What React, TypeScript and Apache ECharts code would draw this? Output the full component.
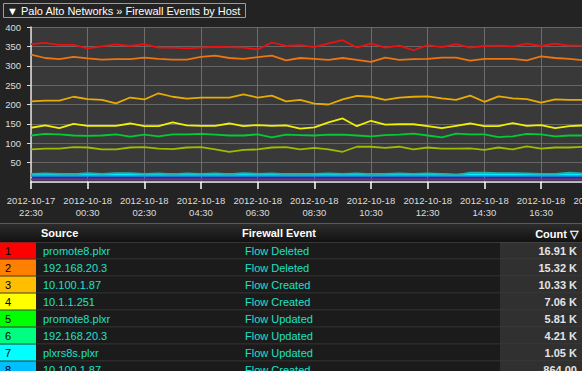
import React, { useEffect, useRef } from "react";
import * as echarts from "echarts";

const times = [
  "2012-10-17 22:30", "2012-10-17 23:00", "2012-10-17 23:30",
  "2012-10-18 00:00", "2012-10-18 00:30", "2012-10-18 01:00", "2012-10-18 01:30",
  "2012-10-18 02:00", "2012-10-18 02:30", "2012-10-18 03:00", "2012-10-18 03:30",
  "2012-10-18 04:00", "2012-10-18 04:30", "2012-10-18 05:00", "2012-10-18 05:30",
  "2012-10-18 06:00", "2012-10-18 06:30", "2012-10-18 07:00", "2012-10-18 07:30",
  "2012-10-18 08:00", "2012-10-18 08:30", "2012-10-18 09:00", "2012-10-18 09:30",
  "2012-10-18 10:00", "2012-10-18 10:30", "2012-10-18 11:00", "2012-10-18 11:30",
  "2012-10-18 12:00", "2012-10-18 12:30", "2012-10-18 13:00", "2012-10-18 13:30",
  "2012-10-18 14:00", "2012-10-18 14:30", "2012-10-18 15:00", "2012-10-18 15:30",
  "2012-10-18 16:00", "2012-10-18 16:30", "2012-10-18 17:00", "2012-10-18 17:30",
  "2012-10-18 18:00", "2012-10-18 18:30", "2012-10-18 19:00",
];

const yTicks = [0, 50, 100, 150, 200, 250, 300, 350, 400];

const redSeries = [356, 359, 354, 354, 345, 350, 355, 351, 356, 347, 347, 345, 347,
  349, 348, 347, 342, 360, 351, 353, 348, 358, 366, 347, 358, 347,
  352, 340, 353, 348, 356, 347, 351, 352, 350, 357, 351, 357, 352, 352, 350, 354];
const orangeSeries = [329, 320, 317, 323, 319, 316, 317, 317, 321, 318, 316, 316, 323,
  326, 320, 318, 322, 326, 314, 320, 318, 315, 320, 315, 310, 321,
  315, 317, 318, 321, 321, 313, 318, 318, 318, 314, 324, 320, 318, 314, 316, 318];
const goldSeries = [208, 210, 210, 220, 214, 212, 203, 218, 213, 229, 220, 215, 218,
  218, 218, 226, 218, 223, 208, 212, 202, 200, 213, 222, 220, 212,
  218, 220, 221, 216, 212, 223, 207, 221, 216, 214, 205, 213, 212, 212, 214, 211];
const yellowSeries = [140, 146, 139, 150, 145, 145, 145, 151, 144, 144, 154, 146, 145,
  145, 151, 144, 147, 145, 146, 138, 141, 154, 164, 144, 158, 148,
  149, 149, 144, 139, 145, 151, 144, 144, 152, 145, 147, 139, 144, 146, 145, 147];
const greenSeries = [120, 124, 123, 120, 119, 120, 123, 117, 122, 118, 123, 123, 124,
  122, 120, 120, 123, 115, 122, 121, 120, 122, 122, 120, 118, 121,
  122, 125, 120, 115, 125, 123, 123, 116, 118, 124, 123, 118, 120, 120, 122, 121];
const oliveSeries = [84, 86, 86, 90, 89, 84, 84, 89, 90, 86, 85, 89, 90,
  84, 78, 83, 84, 89, 90, 84, 88, 84, 78, 91, 91, 88,
  91, 84, 89, 86, 86, 87, 83, 89, 84, 92, 86, 89, 89, 91, 88, 90];
const tealSeries = [21, 22, 21, 20, 23, 21, 23, 23, 21, 22, 20, 22, 21, 22, 20, 23, 21, 22,
  20, 20, 21, 22, 21, 22, 20, 21, 22, 21, 22, 21, 18, 24, 24, 23, 23, 22, 21, 21, 24, 22, 21, 21];
const cyanSeries = [20, 20, 20, 20, 20, 20, 20, 20, 20, 20, 20, 20, 20, 20, 20, 20, 20, 20,
  20, 20, 20, 20, 20, 20, 20, 20, 20, 20, 20, 20, 19, 20, 20, 20, 20, 20, 20, 20, 20, 20, 20, 20];
const blueSeries = [16, 16, 16, 16, 16, 16, 16, 16, 16, 16, 16, 16, 16, 16, 16, 16, 16, 16,
  16, 16, 16, 16, 16, 16, 16, 16, 16, 16, 16, 16, 16, 16, 16, 16, 16, 16, 16, 16, 16, 16, 16, 16];
const purpleSeries = [7, 7, 7, 7, 7, 7, 7, 7, 7, 7, 7, 7, 7, 7, 7, 7, 7, 7,
  7, 7, 7, 7, 7, 7, 7, 7, 7, 7, 7, 7, 7, 7, 7, 7, 7, 7, 7, 7, 7, 7, 7, 7];

const seriesNames = ["Red", "Orange", "Gold", "Yellow", "Green", "Olive", "Teal", "Cyan", "Blue", "Purple"];
const seriesColors = ["#ee1010", "#ee7410", "#e8ac00", "#f0f000", "#00cc33", "#9ebb00", "#20b0b0", "#00eeff", "#1190ff", "#7a22d0"];

const ranks = ["1", "2", "3", "4", "5", "6", "7", "8"];
const rankColors = ["#ff0000", "#ff7f00", "#ffbf00", "#ffff00", "#00ff00", "#00ff80", "#00ffff", "#00bfff"];
const sources = ["promote8.plxr", "192.168.20.3", "10.100.1.87", "10.1.1.251", "promote8.plxr", "192.168.20.3", "plxrs8s.plxr", "10.100.1.87"];
const events = ["Flow Deleted", "Flow Deleted", "Flow Created", "Flow Created", "Flow Updated", "Flow Updated", "Flow Updated", "Flow Created"];
const counts = ["16.91 K", "15.32 K", "10.33 K", "7.06 K", "5.81 K", "4.21 K", "1.05 K", "864.00"];

const FONT = '"Liberation Sans", Arial, sans-serif';

export default function App() {
  const ref = useRef<HTMLDivElement>(null);
  useEffect(() => {
    if (!ref.current) return;
    const chart = echarts.init(ref.current, undefined, { renderer: "svg" });
    const dataSets = [redSeries, orangeSeries, goldSeries, yellowSeries, greenSeries, oliveSeries, tealSeries, cyanSeries, blueSeries, purpleSeries];

    const graphics: any[] = [];
    // title
    graphics.push({ type: "rect", shape: { x: 3.5, y: 3.5, width: 242, height: 14 }, style: { fill: "none", stroke: "#3cc8c0", lineWidth: 1 } });
    graphics.push({ type: "text", x: 7, y: 11, style: { text: "▼ Palo Alto Networks » Firewall Events by Host", fill: "#ffffff", font: `11px ${FONT}`, verticalAlign: "middle" } });
    // header
    const hy = 223;
    graphics.push({
      type: "rect", shape: { x: 0, y: hy, width: 582, height: 19 },
      style: { fill: new echarts.graphic.LinearGradient(0, 0, 0, 1, [{ offset: 0, color: "#2e2e2e" }, { offset: 1, color: "#111111" }]) },
    });
    graphics.push({ type: "line", shape: { x1: 0, y1: hy + 0.5, x2: 582, y2: hy + 0.5 }, style: { stroke: "#5a5a5a", lineWidth: 1 } });
    graphics.push({ type: "line", shape: { x1: 0, y1: hy + 19.5, x2: 582, y2: hy + 19.5 }, style: { stroke: "#555555", lineWidth: 1 } });
    graphics.push({ type: "text", x: 41, y: hy + 9.5, style: { text: "Source", fill: "#ffffff", font: `bold 11px ${FONT}`, verticalAlign: "middle" } });
    graphics.push({ type: "text", x: 242, y: hy + 9.5, style: { text: "Firewall Event", fill: "#ffffff", font: `bold 11px ${FONT}`, verticalAlign: "middle" } });
    graphics.push({ type: "text", x: 578, y: hy + 11, style: { text: "Count ▽", fill: "#ffffff", font: `bold 11px ${FONT}`, verticalAlign: "middle", align: "right" } });
    // rows
    ranks.forEach((r, i) => {
      const y0 = 242.5 + 17 * i;
      graphics.push({ type: "rect", shape: { x: 0, y: y0, width: 500, height: 17 }, style: { fill: "#1b1b1b" } });
      graphics.push({ type: "rect", shape: { x: 500, y: y0, width: 82, height: 17 }, style: { fill: "#303030" } });
      graphics.push({ type: "rect", shape: { x: 0, y: y0, width: 36, height: 17 }, style: { fill: rankColors[i] } });
      graphics.push({ type: "line", shape: { x1: 0, y1: y0 + 16.5, x2: 582, y2: y0 + 16.5 }, style: { stroke: "#3c3c3c", lineWidth: 1 } });
      graphics.push({ type: "text", x: 5, y: y0 + 8.5, style: { text: r, fill: "#000000", font: `11px ${FONT}`, verticalAlign: "middle" } });
      graphics.push({ type: "text", x: 43, y: y0 + 8.5, style: { text: sources[i], fill: "#1ee0c8", font: `11px ${FONT}`, verticalAlign: "middle" } });
      graphics.push({ type: "text", x: 245, y: y0 + 8.5, style: { text: events[i], fill: "#1ee0c8", font: `11px ${FONT}`, verticalAlign: "middle" } });
      graphics.push({ type: "text", x: 577, y: y0 + 8.5, style: { text: counts[i], fill: "#e4e4e4", font: `bold 11px ${FONT}`, verticalAlign: "middle", align: "right" } });
    });

    chart.setOption({
      animation: false,
      backgroundColor: "#232323",
      textStyle: { fontFamily: FONT },
      grid: { left: 31, top: 27, right: 10, bottom: 189, show: true, backgroundColor: "#393939", borderWidth: 0 },
      xAxis: {
        type: "category",
        data: times,
        boundaryGap: false,
        axisLine: { lineStyle: { color: "#dddddd", width: 1.5 } },
        axisTick: { show: true, interval: 3, length: 7, lineStyle: { color: "#ffffff", width: 1.5 } },
        axisLabel: {
          interval: 3, color: "#dddddd", fontSize: 9.5, lineHeight: 12, margin: 12,
          formatter: (v: string) => v.replace(" ", "\n"),
        },
        splitLine: { show: true, interval: 3, lineStyle: { color: "#6e6e6e", width: 1 } },
      },
      yAxis: {
        type: "value",
        min: yTicks[0],
        max: yTicks[yTicks.length - 1],
        interval: 50,
        axisLine: { show: true, lineStyle: { color: "#dddddd", width: 1.5 } },
        axisTick: { show: true, length: 4, lineStyle: { color: "#dddddd" } },
        axisLabel: { color: "#dddddd", fontSize: 9.5, margin: 10, showMinLabel: false },
        splitLine: { show: true, lineStyle: { color: "#666666", width: 1 } },
      },
      series: dataSets.map((d, k) => ({
        name: seriesNames[k],
        type: "line",
        data: d,
        symbol: "none",
        z: 10 - k,
        lineStyle: { color: seriesColors[k], width: 1.8 },
      })).reverse(),
      graphic: graphics,
    });
    return () => chart.dispose();
  }, []);

  return (
    <div style={{ position: "fixed", left: 0, top: 0, width: 582, height: 371, overflow: "hidden", background: "#232323" }}>
      <div ref={ref} style={{ width: 625, height: 371 }} />
    </div>
  );
}
